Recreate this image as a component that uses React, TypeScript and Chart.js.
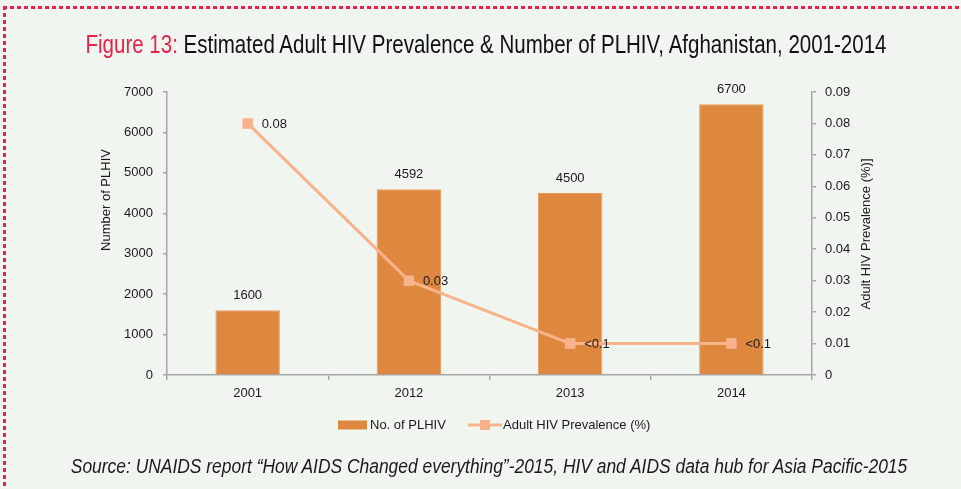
import React, { useEffect, useLayoutEffect, useRef } from 'react';
import Chart from 'chart.js/auto';

const categories = ['2001', '2012', '2013', '2014'];
const plhivValues = [1600, 4592, 4500, 6700];
const prevalenceValues = [0.08, 0.03, 0.01, 0.01];
const prevalenceLabels = ['0.08', '0.03', '<0.1', '<0.1'];
const seriesNames = ['No. of PLHIV', 'Adult HIV Prevalence (%)'];
const leftAxisTitle = 'Number of PLHIV';
const rightAxisTitle = 'Adult HIV Prevalence (%)]';

const FONT = '"Liberation Sans Narrow", "Arial Narrow", "Liberation Sans", Arial, sans-serif';
const FS = 13;
const BAR_COLOR = '#de873f';
const LINE_COLOR = '#f8b38c';
const AXIS_COLOR = '#a6a6a6';
const TEXT_COLOR = '#1a1a1a';
const BG = '#f0f6ef';

const overlayPlugin = {
  id: 'overlay',
  afterDatasetsDraw(chart: any) {
    const ctx = chart.ctx as CanvasRenderingContext2D;
    ctx.save();
    ctx.font = `${FS}px ${FONT}`;
    ctx.fillStyle = TEXT_COLOR;
    ctx.textBaseline = 'middle';
    const barMeta = chart.getDatasetMeta(0);
    barMeta.data.forEach((el: any, i: number) => {
      ctx.textAlign = 'center';
      ctx.fillText(String(plhivValues[i]), el.x, el.y - 15);
    });
    const lineMeta = chart.getDatasetMeta(1);
    lineMeta.data.forEach((el: any, i: number) => {
      ctx.textAlign = 'left';
      ctx.fillText(prevalenceLabels[i], el.x + 14, el.y + 1);
    });

    // axis titles
    ctx.textAlign = 'center';
    ctx.save();
    ctx.translate(106, 200);
    ctx.rotate(-Math.PI / 2);
    ctx.fillText(leftAxisTitle, 0, 0);
    ctx.restore();
    ctx.save();
    ctx.translate(866, 234);
    ctx.rotate(-Math.PI / 2);
    ctx.fillText(rightAxisTitle, 0, 0);
    ctx.restore();

    // legend
    const ly = 425;
    ctx.fillStyle = BAR_COLOR;
    ctx.fillRect(338, ly - 4.5, 29, 9);
    ctx.fillStyle = TEXT_COLOR;
    ctx.textAlign = 'left';
    ctx.fillText(seriesNames[0], 370, ly);
    ctx.strokeStyle = LINE_COLOR;
    ctx.lineWidth = 3;
    ctx.beginPath();
    ctx.moveTo(468, ly);
    ctx.lineTo(502, ly);
    ctx.stroke();
    ctx.fillStyle = LINE_COLOR;
    ctx.fillRect(480, ly - 5, 10, 10);
    ctx.fillStyle = TEXT_COLOR;
    ctx.fillText(seriesNames[1], 503, ly);
    ctx.restore();
  },
};

function FitText(props: { text: React.ReactNode; width: number; center: number; top: number; style: React.CSSProperties }) {
  const ref = useRef<HTMLSpanElement>(null);
  useLayoutEffect(() => {
    const el = ref.current;
    if (!el) return;
    const w = el.offsetWidth;
    const s = props.width / w;
    el.style.transform = `translateX(-50%) scaleX(${s})`;
  }, []);
  return (
    <span
      ref={ref}
      style={{
        position: 'absolute',
        left: props.center,
        top: props.top,
        whiteSpace: 'nowrap',
        transformOrigin: '50% 50%',
        transform: 'translateX(-50%)',
        ...props.style,
      }}
    >
      {props.text}
    </span>
  );
}

export default function App() {
  const canvasRef = useRef<HTMLCanvasElement>(null);

  useEffect(() => {
    document.body.style.margin = '0';
    const canvas = canvasRef.current;
    if (!canvas) return;
    const tickFont = { family: FONT, size: FS };
    const chart = new Chart(canvas, {
      data: {
        labels: categories,
        datasets: [
          {
            type: 'bar',
            label: seriesNames[0],
            data: plhivValues,
            backgroundColor: BAR_COLOR,
            borderColor: '#e89a5a',
            borderWidth: 1,
            barPercentage: 0.4,
            categoryPercentage: 1,
            yAxisID: 'y',
            order: 2,
          },
          {
            type: 'line',
            label: seriesNames[1],
            data: prevalenceValues,
            borderColor: LINE_COLOR,
            backgroundColor: LINE_COLOR,
            borderWidth: 3,
            pointStyle: 'rect',
            pointRadius: 7.4,
            pointBorderWidth: 0,
            tension: 0,
            yAxisID: 'y1',
            order: 1,
          },
        ],
      } as any,
      options: {
        responsive: false,
        animation: false,
        layout: { padding: { top: 92, left: 0, right: 0, bottom: 0 } },
        plugins: { legend: { display: false }, title: { display: false }, tooltip: { enabled: false } },
        scales: {
          x: {
            offset: true,
            grid: { display: true, drawOnChartArea: false, offset: true, tickLength: 5, color: AXIS_COLOR, lineWidth: 1.5 },
            border: { display: true, color: AXIS_COLOR, width: 1.5 },
            ticks: { font: tickFont, color: TEXT_COLOR, padding: 6, maxRotation: 0 },
            afterFit(scale: any) {
              scale.height = 114;
            },
          },
          y: {
            position: 'left',
            min: 0,
            max: 7000,
            ticks: { stepSize: 1000, font: tickFont, color: TEXT_COLOR, padding: 10, callback: (v: any) => String(v) },
            grid: { drawOnChartArea: false, tickLength: 4, color: AXIS_COLOR, lineWidth: 1.5 },
            border: { display: true, color: AXIS_COLOR, width: 1.5 },
            afterFit(scale: any) {
              scale.width = 167;
            },
          },
          y1: {
            position: 'right',
            min: 0,
            max: 0.09,
            ticks: {
              stepSize: 0.01,
              font: tickFont,
              color: TEXT_COLOR,
              padding: 9,
              callback: (v: any) => (Math.abs(v) < 1e-9 ? '0' : Number(v).toFixed(2)),
            },
            grid: { drawOnChartArea: false, tickLength: 4, color: AXIS_COLOR, lineWidth: 1.5 },
            border: { display: true, color: AXIS_COLOR, width: 1.5 },
            afterFit(scale: any) {
              scale.width = 149;
            },
          },
        },
      } as any,
      plugins: [overlayPlugin],
    });
    return () => chart.destroy();
  }, []);

  const dash = (vertical: boolean) =>
    `repeating-linear-gradient(${vertical ? '180deg' : '90deg'}, #e8234a 0px, #e8234a 4px, transparent 4px, transparent 7px)`;

  return (
    <div style={{ position: 'fixed', left: 0, top: 0, width: 961, height: 489, background: BG, overflow: 'hidden' }}>
      <div style={{ position: 'absolute', left: 3, top: 6, width: 958, height: 3, background: dash(false) }} />
      <div style={{ position: 'absolute', left: 3, top: 6, width: 3, height: 483, background: dash(true) }} />
      <canvas ref={canvasRef} width={961} height={489} style={{ position: 'absolute', left: 0, top: 0, width: 961, height: 489 }} />
      <FitText
        text={
          <>
            <span style={{ color: '#e8234a' }}>Figure 13:</span> Estimated Adult HIV Prevalence &amp; Number of PLHIV, Afghanistan, 2001-2014
          </>
        }
        width={801}
        center={485.5}
        top={32}
        style={{ fontFamily: FONT, fontSize: 25, lineHeight: '25px', color: '#111' }}
      />
      <FitText
        text={'Source: UNAIDS report \u201cHow AIDS Changed everything\u201d-2015, HIV and AIDS data hub for Asia Pacific-2015'}
        width={836}
        center={488.5}
        top={456}
        style={{ fontFamily: FONT, fontSize: 20, lineHeight: '20px', fontStyle: 'italic', color: TEXT_COLOR }}
      />
    </div>
  );
}
